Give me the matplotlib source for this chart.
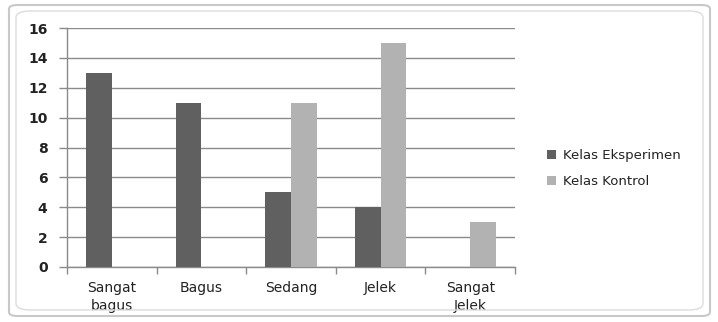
import matplotlib
matplotlib.use("Agg")
import matplotlib.pyplot as plt
from matplotlib.patches import FancyBboxPatch
import numpy as np

categories = ["Sangat\nbagus", "Bagus", "Sedang", "Jelek", "Sangat\nJelek"]
eksperimen = [13, 11, 5, 4, 0]
kontrol = [0, 0, 11, 15, 3]
series_names = ["Kelas Eksperimen", "Kelas Kontrol"]
yticks = [0, 2, 4, 6, 8, 10, 12, 14, 16]

W, H = 718, 322
fig = plt.figure(figsize=(W / 100, H / 100), dpi=100)
fig.patch.set_facecolor("white")

# outer rounded frame
frame = FancyBboxPatch((9 / W, 6 / H), (W - 17) / W, (H - 11) / H,
                       boxstyle="round,pad=0,rounding_size=0.012",
                       transform=fig.transFigure, facecolor="none",
                       edgecolor="#c8c8c8", linewidth=1.5, zorder=0)
fig.patches.append(frame)
frame2 = FancyBboxPatch((16 / W, 12 / H), (W - 31) / W, (H - 23) / H,
                        boxstyle="round,pad=0,rounding_size=0.02",
                        transform=fig.transFigure, facecolor="none",
                        edgecolor="#dcdcdc", linewidth=1.0, zorder=0)
fig.patches.append(frame2)

ax = fig.add_axes([67 / W, 1 - 267 / H, (515 - 67) / W, (267 - 28) / H])
ax.set_facecolor("none")
x = np.arange(len(categories))
bw = 1 / 3.5
dark = "#606060"
light = "#b2b2b2"
ax.bar(x - bw / 2, eksperimen, width=bw, color=dark, label=series_names[0], zorder=3)
ax.bar(x + bw / 2, kontrol, width=bw, color=light, label=series_names[1], zorder=3)

ax.set_xlim(-0.5, len(categories) - 0.5)
ax.set_ylim(0, 16)
ax.set_yticks(yticks)
ax.set_yticklabels([str(v) for v in yticks], fontsize=10, color="#222222",
                   fontweight="semibold")
ax.yaxis.grid(True, color="#8a8a8a", linewidth=1.0, zorder=0)
ax.set_axisbelow(True)

ax.set_xticks(np.arange(-0.5, len(categories), 1.0))
ax.set_xticklabels([])
ax.set_xticks(x, minor=True)
ax.set_xticklabels(categories, minor=True, fontsize=10, color="#222222",
                   linespacing=1.35)
ax.tick_params(axis="x", which="minor", length=0, pad=10)
ax.tick_params(axis="x", which="major", length=5, color="#8a8a8a", width=1)
ax.tick_params(axis="y", length=6, color="#8a8a8a", width=1, pad=8)

for s in ["top", "right"]:
    ax.spines[s].set_visible(False)
for s in ["left", "bottom"]:
    ax.spines[s].set_color("#8a8a8a")
    ax.spines[s].set_linewidth(1.0)

leg = fig.legend(loc="upper left", bbox_to_anchor=(535 / W, 1 - 137 / H),
                 frameon=False, fontsize=9.5, handlelength=0.7, handleheight=0.7,
                 handletextpad=0.5, labelspacing=1.0, labelcolor="#222222")

fig.savefig("out.png", dpi=100, facecolor="white")
